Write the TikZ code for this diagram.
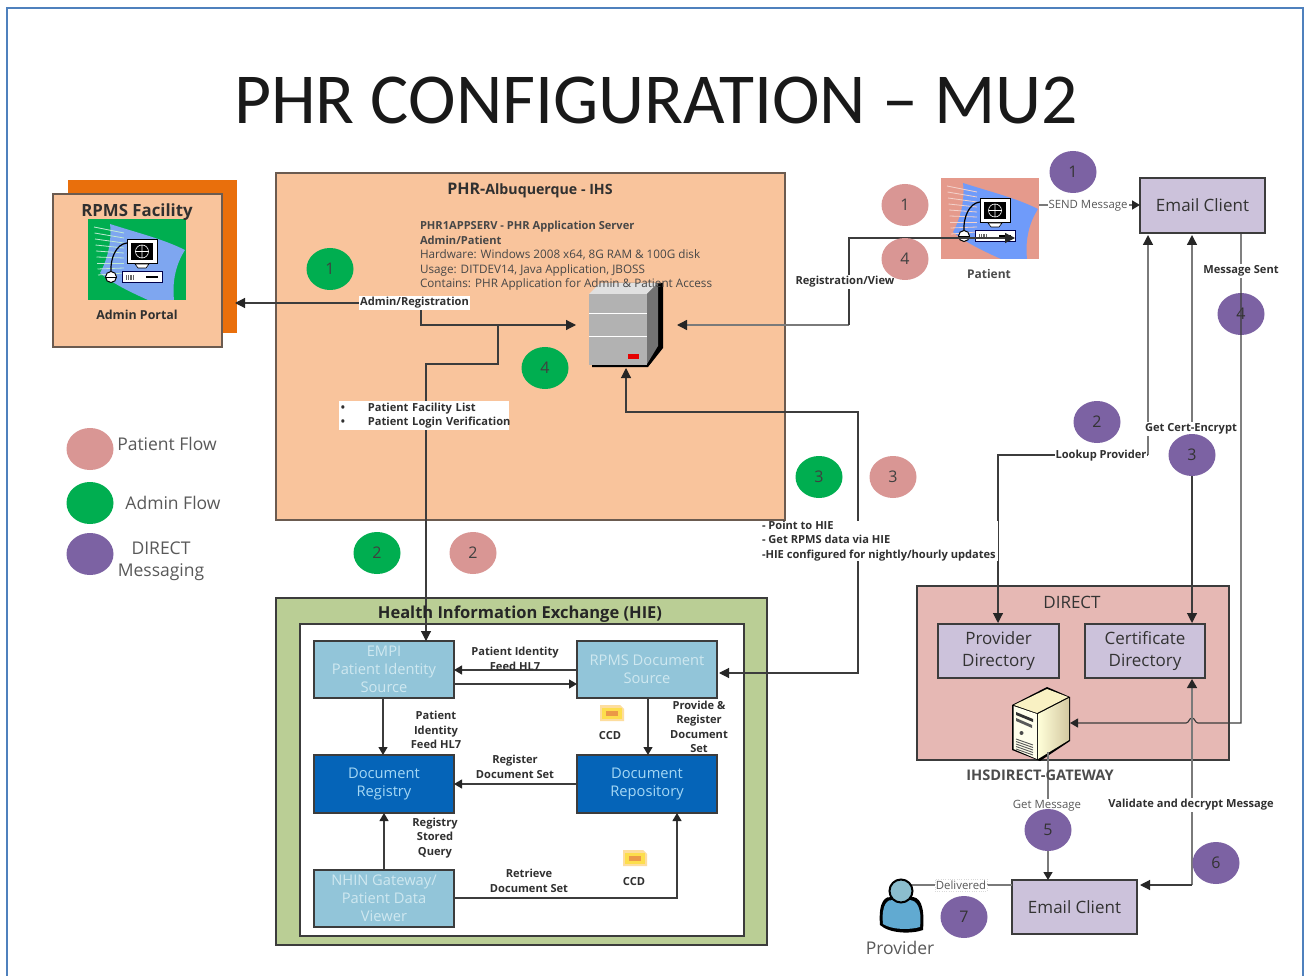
\documentclass[tikz,border=0pt]{standalone}
\usepackage{fontspec}
\setmainfont{Open Sans}
\newfontfamily\titlefont{Carlito}
\usetikzlibrary{shapes.geometric,arrows.meta,calc}
\definecolor{frameblue}{HTML}{4F81BD}
\definecolor{peach}{HTML}{F9C49C}
\definecolor{orangeback}{HTML}{E96F0C}
\definecolor{edgebrown}{HTML}{6B5B50}
\definecolor{olive}{HTML}{BACE95}
\definecolor{lightbox}{HTML}{92C5D9}
\definecolor{lighttext}{HTML}{CFE8F0}
\definecolor{darkbox}{HTML}{0564B8}
\definecolor{darktext}{HTML}{A5D8F5}
\definecolor{lav}{HTML}{CCC2DB}
\definecolor{rose}{HTML}{E6B8B4}
\definecolor{pinkc}{HTML}{D99694}
\definecolor{greenc}{HTML}{00AE50}
\definecolor{purplec}{HTML}{7C62A3}
\definecolor{linec}{HTML}{3C3C3C}
\definecolor{lineg}{HTML}{7A7A7A}
\definecolor{labtext}{HTML}{303030}
\definecolor{swoosha}{HTML}{7EA6F0}
\definecolor{swooshb}{HTML}{6F9BFA}
\definecolor{patbg}{HTML}{E59A8C}
\newcommand{\fsz}[2]{\fontsize{#1}{#2}\selectfont}
\newcommand{\workstation}[5]{%
  \begin{scope}[shift={(#1,#2)}]
    \fill[#3] (0,0) rectangle (98,81);
    \fill[#4] (22,5) .. controls (50,14) and (75,20) .. (97,31) .. controls (88,45) and (84,62) .. (86,81)
      -- (60,81) .. controls (40,72) and (24,64) .. (12,54) .. controls (20,40) and (24,20) .. (22,5) -- cycle;
    \foreach \k in {0,...,8}{\draw[#5,line width=.8pt] ({6+\k*0.5},{8+\k*6}) -- ({36},{14+\k*5});}
    \draw[black,line width=1.2pt] (39,24) .. controls (28,25) and (22,40) .. (23,53);
    \draw[black,fill=white,line width=1pt] (39,21) rectangle (69,45);
    \fill[black] (43,24) rectangle (65,41);
    \draw[white,line width=.6pt] (54,32.5) circle (6.5) (47.5,32.5) -- (60.5,32.5) (54,26) -- (54,39);
    \fill[white,draw=black,line width=.6pt] (47,45) -- (61,45) -- (58,49) -- (50,49) -- cycle;
    \draw[black,fill=white,line width=1pt] (23,58) circle (5.5);
    \draw[black,line width=.8pt] (17.5,58) -- (28.5,58);
    \draw[black!70!blue,fill=white,line width=1pt] (34,53) rectangle (74,64);
    \fill[black] (58,57) rectangle (70,59);
    \foreach \k in {0,...,3}{\fill[black!60] ({38+\k*2.2},56) rectangle ({39.2+\k*2.2},61);}
  \end{scope}}
\newcommand{\ccdicon}[2]{%
  \begin{scope}[shift={(#1,#2)}]
    \fill[yellow!30!orange!35!white] (-12,-8) -- (8,-8) -- (12,-4) -- (12,8) -- (-12,8) -- cycle;
    \fill[yellow!70!orange!70!white] (-10,-5) rectangle (10,6);
    \fill[orange!60!brown!80!white] (-6,-2) rectangle (6,3);
  \end{scope}}
\tikzset{
  base/.style={inner sep=0pt,outer sep=0pt},
  wirel/.style={linec,line width=1.15pt},
  wireg/.style={lineg,line width=1.4pt},
  tipb/.style={-{Triangle[length=10pt,width=10pt,color=black!85]}},
  tips/.style={-{Triangle[length=8pt,width=9pt,color=black!85]}},
  arr/.style={wirel,tipb},
  arrg/.style={wireg,tipb},
  arrs/.style={wirel,tips},
  farbox/.style={base,draw=edgebrown,line width=1.3pt},
  lightn/.style={base,draw=linec,line width=1.2pt,fill=lightbox,text=lighttext,align=center,minimum width=140pt,minimum height=57pt,font=\fsz{14.7}{18}},
  darkn/.style={base,draw=linec,line width=1.2pt,fill=darkbox,text=darktext,align=center,minimum width=140pt,minimum height=58pt,font=\fsz{14.7}{18.5}},
  lavn/.style={base,draw=linec,line width=1.2pt,fill=lav,text=black!80,align=center,font=\fsz{17}{22}},
  lbl/.style={base,align=center,text=labtext,yshift=-1pt,font=\bfseries\fsz{11.1}{14.4}},
  wlbl/.style={lbl,fill=white,inner xsep=1pt,inner ysep=1.5pt},
  glbl/.style={wlbl,font=\fsz{11.4}{14.4},text=black!65},
  spot/.style={base,ellipse,minimum width=47pt,minimum height=42pt,text=black!75,font=\fsz{16}{18}},
  pinkspot/.style={spot,fill=pinkc},
  greenspot/.style={spot,fill=greenc},
  purplespot/.style={spot,fill=purplec,text=black!80},
  legend/.style={base,align=center,text=black!65,font=\fsz{17.5}{22}},
}
\begin{document}
\begin{tikzpicture}[x=1pt,y=-1pt]
\useasboundingbox (0,0) rectangle (1304,976);
\fill[white] (0,0) rectangle (1304,976);
\begin{scope}
\clip (0,0) rectangle (1304,976);
\node[base,draw=frameblue,line width=1.2pt,minimum width=1296pt,minimum height=1000pt,anchor=north west] (frame) at (7,8) {};
\end{scope}
\node[base,font=\titlefont\fsz{71.7}{80},text=black!90] (title) at (656,101) {PHR CONFIGURATION – MU2};

% ---- RPMS facility
\node[base,fill=orangeback,minimum width=169pt,minimum height=153pt,anchor=north west] (rpmsback) at (68,180) {};
\node[farbox,fill=peach,minimum width=169pt,minimum height=153pt,anchor=north west] (rpms) at (53,194) {};
\workstation{88}{219}{greenc}{swoosha}{white!75!greenc}
\node[lbl,font=\bfseries\fsz{16.8}{18}] (rpmst) at (137,211) {RPMS Facility};
\node[lbl,font=\bfseries\fsz{12.4}{15}] (portal) at (137,314) {Admin Portal};

% ---- PHR box
\node[farbox,fill=peach,minimum width=509pt,minimum height=347pt,anchor=north west] (phr) at (276,173) {};
\node[lbl] (phrt) at (530,189.5) {\fsz{16}{18}PHR-\fsz{14.2}{18}Albuquerque - IHS};

% PHR server
\fill[black] (600,283) -- (663,283) -- (663,348) -- (648,367) -- (592,367) -- (592,360) -- cycle;
\fill[black!12] (589,294) -- (600,283) -- (658,283) -- (647,294) -- cycle;
\fill[black!55] (647,294) -- (658,283) -- (658,346) -- (647,364) -- cycle;
\node[base,fill=black!30,minimum width=58pt,minimum height=71pt,anchor=north west] (phrsrv) at (589,294) {};
\draw[white,line width=.8pt] (589,313) -- (647,313) (589,336) -- (647,336);
\fill[red!90!black] (628,353.5) rectangle (639,358.5);
\node[lbl,anchor=north west,align=left,font=\fsz{11.7}{14.4},text=black!72] (phrd) at (420,220.5)
 {\fsz{11.1}{14.4}\textbf{PHR1APPSERV - PHR Application Server}\\\fsz{11.1}{14.4}\textbf{Admin/Patient}\\Hardware: Windows 2008 x64, 8G RAM \& 100G disk\\Usage: DITDEV14, Java Application, JBOSS\\Contains: PHR Application for Admin \& Patient Access};

% ---- Patient
\workstation{941}{178}{patbg}{swooshb}{white!55!patbg}
\node[lbl,font=\bfseries\fsz{12}{15},text=black!70] (patient) at (989,273) {Patient};
\node[lavn,minimum width=125pt,minimum height=55pt,anchor=north west] (mail1) at (1140,178) {Email Client};

% ---- HIE
\node[base,draw=linec,line width=1.2pt,fill=olive,minimum width=491pt,minimum height=347pt,anchor=north west] (hie) at (276,598) {};
\node[base,draw=linec,line width=1.2pt,fill=white,minimum width=444pt,minimum height=312pt,anchor=north west] (hiein) at (300,624) {};
\node[lightn,anchor=north west] (empi) at (314,641) {EMPI\\Patient Identity\\Source};
\node[lightn,anchor=north west] (rpmsdoc) at (577,641) {RPMS Document\\Source};
\node[darkn,anchor=north west] (registry) at (314,755) {\raisebox{-1pt}{Document}\\\raisebox{-1pt}{Registry}};
\node[darkn,anchor=north west] (repo) at (577,755) {\raisebox{-1pt}{Document}\\\raisebox{-1pt}{Repository}};
\node[lightn,anchor=north west] (nhin) at (314,870) {NHIN Gateway/\\Patient Data\\Viewer};
\ccdicon{612}{713}
\ccdicon{635}{858}

% ---- DIRECT
\node[base,draw=linec,line width=1.2pt,fill=rose,minimum width=312pt,minimum height=174pt,anchor=north west] (direct) at (917,586) {};
\node[lavn,minimum width=121pt,minimum height=54pt,anchor=north west] (provdir) at (938,624) {Provider\\Directory};
\node[lavn,minimum width=120pt,minimum height=54pt,anchor=north west] (certdir) at (1085,624) {Certificate\\Directory};
\node[lavn,minimum width=125pt,minimum height=54pt,anchor=north west] (mail2) at (1012,880) {Email Client};

% coordinates for connector ends
\coordinate (adminOut) at (235,303);
\coordinate (srvL) at (576,325);
\coordinate (srvR) at (677,325);
\coordinate (srvB) at (626,368);
\coordinate (ptIcon) at (1015,238);
\coordinate (empiIn) at (426,641);
\coordinate (rpmsIn) at (719,673);
\coordinate (m1a) at (1148,235);
\coordinate (m1b) at (1192,235);
\coordinate (m1c) at (1241,233);
\coordinate (gwR) at (1070,723);
\coordinate (gwB) at (1048,752);
\coordinate (certIn) at (1192,679);
\coordinate (provTop) at (998,623);
\coordinate (certTop) at (1192,623);
\coordinate (m2in) at (1048,880);
\coordinate (m2r) at (1140,885);
\coordinate (provHead) at (908,885);
\coordinate (phrJoin) at (498,325);
\coordinate (ptSend) at (1039,205);
\coordinate (mailSend) at (1140,205);

% purple 4 sits under its line
\node[purplespot] (p4) at (1241,314) {4};

\draw[arr] (421,303) -- (adminOut);
\draw[arr] (421,303) |- (srvL);
\draw[wirel] (phrJoin) -- (498,364) -- (426,364) -- (426,400);
\draw[arr] (426,400) -- (empiIn);
\draw[arrg] (849,325) -- (srvR);
\draw[arr] (849,325) -- (849,238) -- (ptIcon);
\draw[arr] (858,500) -- (858,412) -- (626,412) -- (srvB);
\draw[arr] (858,500) -- (858,673) -- (rpmsIn);
\draw[wireg,tips] (ptSend) -- (mailSend);

\draw[arrg] (1148,455) -- (m1a);
\draw[arr] (1148,455) -- (998,455) -- (provTop);
\draw[arrg] (1192,445) -- (m1b);
\draw[arr] (1192,445) -- (certTop);
\draw[arrs] (m1c) -- (1241,723) -- (1198,723) .. controls (1195,723) and (1195,718) .. (1192,718) .. controls (1189,718) and (1189,723) .. (1186,723) -- (gwR);
\draw[wireg,-{Triangle[length=9pt,width=10pt,color=black!85]}] (1192,885) -- (1192,730) -- (certIn);
\draw[wirel,tipb] (1192,885) -- (m2r);
\draw[wireg] (mail2.west |- provHead) -- (provHead);

% HIE wires
\draw[arrs] (rpmsdoc.west |- 0,670) -- (empi.east |- 0,670);
\draw[arrs] (empi.east |- 0,684) -- (rpmsdoc.west |- 0,684);
\draw[arrs] (383,698) -- (383,755);
\draw[arrs] (648,698) -- (648,755);
\draw[arrs] (repo.west |- 0,784) -- (registry.east |- 0,784);
\draw[arrs] (nhin.north) -- (registry.south);
\draw[arrs] (nhin.east |- 0,898) -- (677,898) -- (677,813);

% gateway server
\fill[black] (1012,705) -- (1047,687) -- (1070,697) -- (1070,741) -- (1040,761) -- (1012,750) -- cycle;
\shade[left color=white!85!yellow,right color=olive!55!brown!65!white] (1038,714) -- (1069,698) -- (1069,740) -- (1038,759) -- cycle;
\fill[white!82!yellow!90!brown] (1014,705) -- (1047,689) -- (1068,697) -- (1037,713) -- cycle;
\fill[white!92!yellow] (1013.5,706) -- (1037,714) -- (1037,759) -- (1013.5,749) -- cycle;
\fill[black!80] (1016,712) -- (1033,719) -- (1033,722) -- (1016,715) -- cycle;
\fill[black!65] (1016,718) -- (1032,725) -- (1032,728) -- (1016,721) -- cycle;
\fill[black!70] (1021.5,733) circle (2);
\foreach \k in {0,...,4}{\draw[black!65,line width=.9pt] (1016,{739+\k*2.5}) -- (1033,{745+\k*2.5});}
\node[base,minimum width=58pt,minimum height=73pt,anchor=north west] (gw) at (1012,687) {};

\draw[wireg,tips] (gwB) -- (m2in);

% provider
\fill[black] (880,925) .. controls (878,900) and (886,896) .. (892,897) -- (910,897) .. controls (920,896) and (925,905) .. (923,930) .. controls (912,934) and (890,934) .. (880,925) -- cycle;
\fill[blue!35!cyan!55!gray!80!white] (883,924) .. controls (881,904) and (888,899) .. (893,900) -- (909,900) .. controls (917,900) and (922,908) .. (920,927) .. controls (910,930) and (892,930) .. (883,924) -- cycle;
\node[base,circle,draw=black,line width=2pt,fill=blue!25!cyan!40!gray!65!white,minimum width=23pt] (provider) at (901,891) {};
\node[base,font=\fsz{17.5}{20},text=black!65] (provt) at (900,948) {Provider};

% labels
\node[wlbl] (l1) at (414.5,302) {Admin/Registration};
\node[wlbl] (l2) at (845,281) {Registration/View};
\node[glbl] (l3) at (1088,205) {SEND Message};
\node[wlbl] (l4) at (1241,270) {Message Sent};
\node[wlbl] (l5) at (1191,428) {Get Cert-Encrypt};
\node[wlbl] (l6) at (1101,455) {Lookup Provider};
\node[glbl] (l7) at (1047,805) {Get Message};
\node[wlbl] (l8) at (1191,804) {Validate and decrypt Message};
\node[glbl,draw=black!15,dotted,line width=.3pt] (l9) at (961,884) {Delivered};
\node[wlbl,align=left,text width=170pt,minimum height=29pt,inner xsep=0pt,anchor=north west] (l10) at (339,400) {\mbox{\makebox[29pt][l]{\,\textbullet}Patient Facility List}\\\mbox{\makebox[29pt][l]{\,\textbullet}Patient Login Verification}};
\node[wlbl,align=left,anchor=north west,inner xsep=2pt,inner ysep=0pt] (l11) at (760,520) {- Point to HIE\\- Get RPMS data via HIE\\-HIE configured for nightly/hourly updates};
\node[lbl,font=\bfseries\fsz{14.6}{16},text=black!70] (gwt) at (1040,774) {IHSDIRECT-GATEWAY};
\node[lbl,font=\fsz{17}{18},text=black!80] (directt) at (1072,601) {DIRECT};
\node[lbl,font=\bfseries\fsz{16.5}{20},text=black!85] (hiet) at (520,613) {Health Information Exchange (HIE)};
\node[lbl] (h1) at (515,658) {Patient Identity\\Feed HL7};
\node[lbl] (h2) at (436,729) {Patient\\Identity\\Feed HL7};
\node[lbl] (h3) at (699,726) {Provide \&\\Register\\Document\\Set};
\node[lbl] (h4) at (610,735) {CCD};
\node[lbl] (h5) at (515,766) {Register\\Document Set};
\node[lbl] (h6) at (435,837) {Registry\\Stored\\Query};
\node[lbl] (h7) at (529,880) {Retrieve\\Document Set};
\node[lbl] (h8) at (634,881) {CCD};

% flow markers
\node[greenspot] (g1) at (330,269) {1};
\node[greenspot] (g4) at (545,368) {4};
\node[greenspot] (g3) at (819,477) {3};
\node[greenspot] (g2) at (377,553) {2};
\node[pinkspot] (r1) at (905,205) {1};
\node[pinkspot] (r4) at (905,259) {4};
\node[pinkspot] (r3) at (893,477) {3};
\node[pinkspot] (r2) at (473,553) {2};
\node[purplespot] (p1) at (1073,172) {1};
\node[purplespot] (p2) at (1097,422) {2};
\node[purplespot] (p3) at (1192,455) {3};
\node[purplespot] (p5) at (1048,830) {5};
\node[purplespot] (p6) at (1216,863) {6};
\node[purplespot] (p7) at (964,917) {7};

% legend
\node[pinkspot] (lg1) at (90,449) {};
\node[greenspot] (lg2) at (90,503) {};
\node[purplespot] (lg3) at (90,554) {};
\node[legend] (lt1) at (167,444) {Patient Flow};
\node[legend] (lt2) at (173,503) {Admin Flow};
\node[legend] (lt3) at (161,561) {DIRECT\\Messaging};
\end{tikzpicture}
\end{document}
